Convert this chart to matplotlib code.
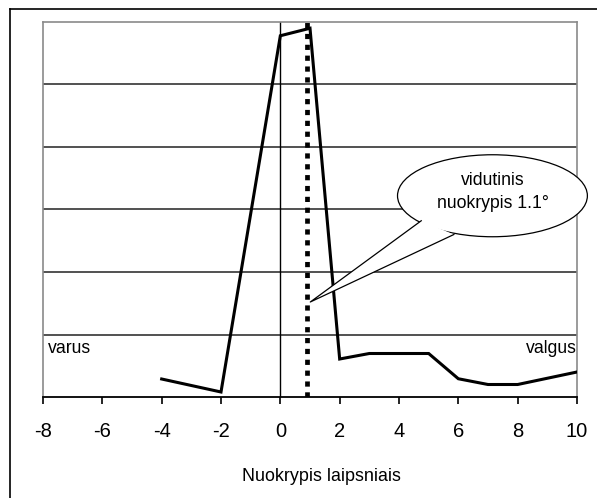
import matplotlib
matplotlib.use("Agg")
import matplotlib.pyplot as plt
from matplotlib.patches import Ellipse, Polygon
from matplotlib.lines import Line2D

plt.rcParams['font.family'] = ['Liberation Sans', 'DejaVu Sans']

# data (y in arbitrary units, gridline every 5)
deg = [-4, -2, 0, 1, 2, 3, 4, 5, 6, 7, 8, 10]
share = [1.44, 0.4, 28.9, 29.5, 3.04, 3.48, 3.48, 3.48, 1.46, 1.0, 1.0, 2.0]
mean_pos = 0.91
x_ticks = [-8, -6, -4, -2, 0, 2, 4, 6, 8, 10]
y_grid = [5, 10, 15, 20, 25]

fig = plt.figure(figsize=(5.97, 4.98), dpi=100)
ax = fig.add_axes([43/597, 101/498, 534/597, 375/498])

# outer frame (only left and top edges visible)
fig.add_artist(Line2D([10/597, 10/597], [0, 1 - 9/498], color='black', lw=1.2, transform=fig.transFigure))
fig.add_artist(Line2D([10/597, 1], [1 - 9/498, 1 - 9/498], color='black', lw=1.2, transform=fig.transFigure))

for g in y_grid:
    ax.axhline(g, color='#222222', lw=1.1, zorder=1)
ax.axvline(0, color='black', lw=1.0, zorder=1)

ax.plot(deg, share, color='black', lw=2.2, zorder=3, solid_joinstyle='miter')
ax.axvline(mean_pos, color='black', lw=3.4, linestyle=(0, (1.1, 1.2)), dash_capstyle='butt', zorder=4)

# callout bubble
bub = Ellipse((7.15, 16.1), 6.4, 6.56, facecolor='white', edgecolor='black', lw=0.9, zorder=5, clip_on=False)
ax.add_patch(bub)
tail = [(4.75, 14.1), (1.01, 7.6), (5.85, 13.0)]
ax.add_patch(Polygon(tail, closed=True, facecolor='white', edgecolor='none', zorder=6))
ax.plot([tail[0][0], tail[1][0], tail[2][0]], [tail[0][1], tail[1][1], tail[2][1]],
        color='black', lw=0.9, zorder=7)
ax.text(7.15, 16.4, "vidutinis\nnuokrypis 1.1°", ha='center', va='center',
        fontsize=12.7, linespacing=1.45, zorder=8)

ax.text(-7.85, 3.9, "varus", ha='left', va='center', fontsize=12.7)
ax.text(9.98, 3.9, "valgus", ha='right', va='center', fontsize=12.7)

ax.set_xlim(-8, 10)
ax.set_ylim(0, 30)
ax.set_xticks(x_ticks)
ax.set_xticklabels([str(t) for t in x_ticks])
ax.set_yticks([])
ax.tick_params(axis='x', direction='out', length=5, width=1.2, pad=13, labelsize=14.5)
for side in ['left', 'top', 'right']:
    ax.spines[side].set_color('#8a8a8a')
    ax.spines[side].set_linewidth(1.2)
ax.spines['bottom'].set_color('black')
ax.spines['bottom'].set_linewidth(1.3)

fig.text(321/597, 1 - 476/498, "Nuokrypis laipsniais", ha='center', va='center', fontsize=12.9)

fig.savefig("out.png", dpi=100)
